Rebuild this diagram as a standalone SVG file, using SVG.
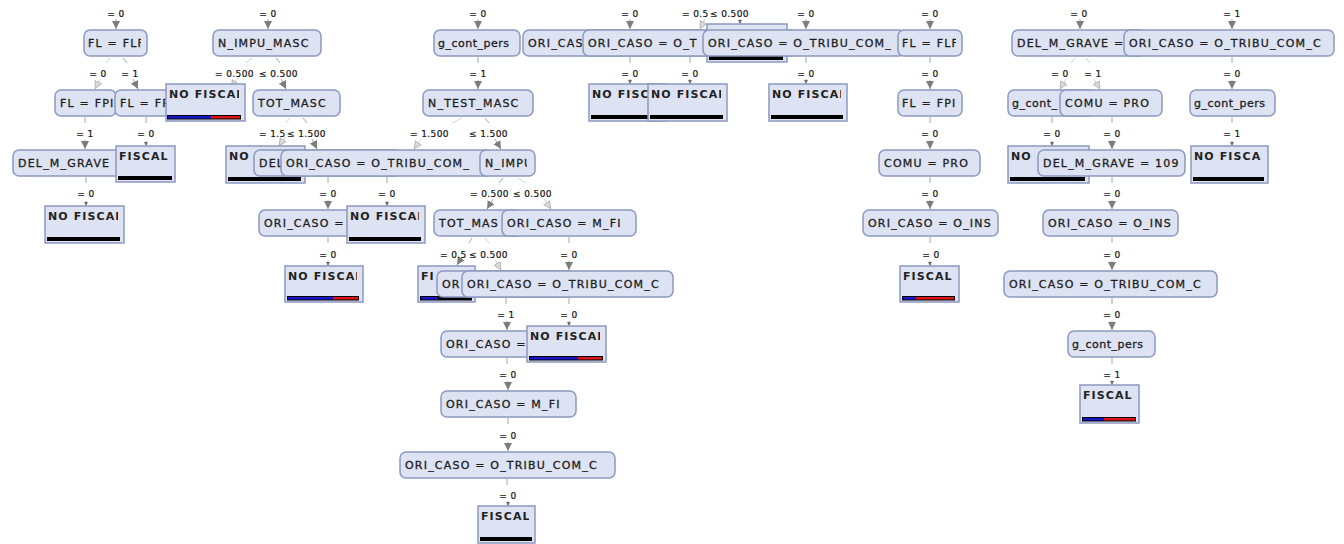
<svg xmlns="http://www.w3.org/2000/svg" width="1344" height="544" viewBox="0 0 1344 544">
<defs>
<style>
.node rect{fill:#dde3f3;stroke:#8c99c0;stroke-width:1.5}
.leaf rect.box{fill:#dde3f3;stroke:#8c99c0;stroke-width:1.5}
.nt{font-family:"DejaVu Sans",sans-serif;font-size:11px;letter-spacing:1.2px;fill:#1e1e1e;stroke:#1e1e1e;stroke-width:0.3px}
.nt.lc{letter-spacing:0.5px}
.lt{font-family:"DejaVu Sans",sans-serif;font-size:11px;font-weight:bold;letter-spacing:1.1px;fill:#222}
.lab{font-family:"DejaVu Sans",sans-serif;font-size:9px;letter-spacing:0.4px;fill:#111;stroke:#111;stroke-width:0.2px}
.lab.c{text-anchor:middle}
.bk{fill:#000}
.bb{fill:#1414c8}
.br{fill:#dc1414}
.e{stroke:#a6a6a6;stroke-width:1;fill:none}
.el{stroke:#d2d2d2;stroke-width:1;fill:none}
</style>
<marker id="ah" viewBox="0 0 10 10" refX="10" refY="5" markerWidth="8" markerHeight="9" markerUnits="userSpaceOnUse" orient="auto"><path d="M0,0 L10,5 L0,10 Z" fill="#7d7d7d"/></marker>
<marker id="al" viewBox="0 0 10 10" refX="10" refY="5" markerWidth="8" markerHeight="9" markerUnits="userSpaceOnUse" orient="auto"><path d="M0.5,0.5 L9.5,5 L0.5,9.5 Z" fill="#dadada" stroke="#adadad" stroke-width="1"/></marker>
<marker id="as" viewBox="0 0 10 10" refX="10" refY="5" markerWidth="4" markerHeight="5" markerUnits="userSpaceOnUse" orient="auto"><path d="M0,0 L10,5 L0,10 Z" fill="#6e6e6e"/></marker>
</defs>
<rect width="1344" height="544" fill="#ffffff"/>

<!-- connectors -->
<g id="connectors">
  <!-- arrows entering the top row from parents above -->
  <line class="e" x1="116" y1="19" x2="116" y2="29" marker-end="url(#ah)"/>
  <line class="e" x1="268" y1="19" x2="268" y2="29" marker-end="url(#ah)"/>
  <line class="e" x1="478" y1="19" x2="478" y2="29" marker-end="url(#ah)"/>
  <line class="e" x1="630" y1="19" x2="630" y2="29" marker-end="url(#ah)"/>
  <line class="el" x1="705" y1="19" x2="700" y2="29" marker-end="url(#al)"/>
  <line class="e" x1="740" y1="19" x2="740" y2="24" marker-end="url(#as)"/>
  <line class="e" x1="806" y1="19" x2="806" y2="29" marker-end="url(#ah)"/>
  <line class="e" x1="930" y1="19" x2="930" y2="29" marker-end="url(#ah)"/>
  <line class="e" x1="1080" y1="19" x2="1080" y2="29" marker-end="url(#ah)"/>
  <line class="e" x1="1232" y1="19" x2="1232" y2="29" marker-end="url(#ah)"/>

  <!-- split edges -->
  <line class="el" x1="110" y1="58" x2="106" y2="63"/>
  <line class="el" x1="100" y1="79" x2="95" y2="89" marker-end="url(#al)"/>
  <line class="e" x1="123" y1="58" x2="127" y2="63"/>
  <line class="e" x1="133" y1="79" x2="138" y2="89" marker-end="url(#ah)"/>

  <line class="el" x1="252" y1="58" x2="246" y2="63"/>
  <line class="el" x1="238" y1="78" x2="231" y2="88" marker-end="url(#al)"/>
  <line class="e" x1="276" y1="58" x2="280" y2="63"/>
  <line class="e" x1="281" y1="79" x2="286" y2="89" marker-end="url(#ah)"/>

  <line class="el" x1="290" y1="118" x2="286" y2="123"/>
  <line class="el" x1="285" y1="137" x2="279" y2="146" marker-end="url(#al)"/>
  <line class="e" x1="303" y1="118" x2="307" y2="123"/>
  <line class="e" x1="312" y1="139" x2="317" y2="149" marker-end="url(#ah)"/>

  <line class="el" x1="462" y1="118" x2="452" y2="123"/>
  <line class="el" x1="421" y1="139" x2="414" y2="149" marker-end="url(#al)"/>
  <line class="e" x1="485" y1="118" x2="489" y2="123"/>
  <line class="e" x1="495" y1="139" x2="501" y2="149" marker-end="url(#ah)"/>

  <line class="e" x1="503" y1="178" x2="499" y2="183"/>
  <line class="e" x1="493" y1="199" x2="487" y2="209" marker-end="url(#ah)"/>
  <line class="el" x1="518" y1="178" x2="526" y2="183"/>
  <line class="el" x1="544" y1="199" x2="551" y2="209" marker-end="url(#al)"/>

  <line class="e" x1="472" y1="238" x2="469" y2="243"/>
  <line class="e" x1="462" y1="257" x2="457" y2="265" marker-end="url(#ah)"/>
  <line class="el" x1="485" y1="238" x2="489" y2="243"/>
  <line class="el" x1="495" y1="260" x2="501" y2="270" marker-end="url(#al)"/>

  <line class="el" x1="1075" y1="58" x2="1071" y2="63"/>
  <line class="el" x1="1066" y1="79" x2="1060" y2="89" marker-end="url(#al)"/>
  <line class="el" x1="1086" y1="58" x2="1090" y2="63"/>
  <line class="el" x1="1094" y1="79" x2="1100" y2="89" marker-end="url(#al)"/>

  <!-- single-child edges -->
  <path class="e" d="M478,57V63M630,57V63M690,57V63M806,57V63M930,57V63M1232,57V63"/>
  <line class="e" x1="478" y1="80" x2="478" y2="89" marker-end="url(#ah)"/>
  <line class="e" x1="630" y1="79" x2="630" y2="84" marker-end="url(#as)"/>
  <line class="e" x1="690" y1="79" x2="690" y2="84" marker-end="url(#as)"/>
  <line class="e" x1="806" y1="79" x2="806" y2="84" marker-end="url(#as)"/>
  <line class="e" x1="930" y1="80" x2="930" y2="89" marker-end="url(#ah)"/>
  <line class="e" x1="1232" y1="80" x2="1232" y2="89" marker-end="url(#ah)"/>

  <path class="e" d="M85,117V123M146,117V123M930,117V123M1052,117V123M1112,117V123M1232,117V123"/>
  <line class="e" x1="85" y1="140" x2="85" y2="149" marker-end="url(#ah)"/>
  <line class="e" x1="146" y1="141" x2="146" y2="146" marker-end="url(#as)"/>
  <line class="e" x1="930" y1="140" x2="930" y2="149" marker-end="url(#ah)"/>
  <line class="e" x1="1052" y1="141" x2="1052" y2="146" marker-end="url(#as)"/>
  <line class="e" x1="1112" y1="140" x2="1112" y2="149" marker-end="url(#ah)"/>
  <line class="e" x1="1232" y1="141" x2="1232" y2="146" marker-end="url(#as)"/>

  <path class="e" d="M86,177V183M328,177V183M387,177V183M930,177V183M1112,177V183"/>
  <line class="e" x1="86" y1="201" x2="86" y2="206" marker-end="url(#as)"/>
  <line class="e" x1="328" y1="200" x2="328" y2="209" marker-end="url(#ah)"/>
  <line class="e" x1="387" y1="201" x2="387" y2="206" marker-end="url(#as)"/>
  <line class="e" x1="930" y1="200" x2="930" y2="209" marker-end="url(#ah)"/>
  <line class="e" x1="1112" y1="200" x2="1112" y2="209" marker-end="url(#ah)"/>

  <path class="e" d="M328,237V243M569,237V243M930,237V243M1112,237V243"/>
  <line class="e" x1="328" y1="261" x2="328" y2="266" marker-end="url(#as)"/>
  <line class="e" x1="569" y1="261" x2="569" y2="270" marker-end="url(#ah)"/>
  <line class="e" x1="930" y1="261" x2="930" y2="266" marker-end="url(#as)"/>
  <line class="e" x1="1112" y1="261" x2="1112" y2="270" marker-end="url(#ah)"/>

  <path class="e" d="M506,298V304M569,298V304M1112,298V304"/>
  <line class="e" x1="507" y1="321" x2="507" y2="330" marker-end="url(#ah)"/>
  <line class="e" x1="569" y1="321" x2="569" y2="326" marker-end="url(#as)"/>
  <line class="e" x1="1112" y1="321" x2="1112" y2="330" marker-end="url(#ah)"/>

  <path class="e" d="M507,358V364M1112,358V364"/>
  <line class="e" x1="508" y1="381" x2="508" y2="390" marker-end="url(#ah)"/>
  <line class="e" x1="1112" y1="380" x2="1112" y2="385" marker-end="url(#as)"/>

  <path class="e" d="M508,418V424"/>
  <line class="e" x1="508" y1="442" x2="508" y2="451" marker-end="url(#ah)"/>

  <path class="e" d="M507,479V485"/>
  <line class="e" x1="508" y1="501" x2="508" y2="506" marker-end="url(#as)"/>
</g>

<!-- edge labels -->
<g id="edge-labels">
  <text class="lab c" x="116" y="17">= 0</text>
  <text class="lab c" x="268" y="17">= 0</text>
  <text class="lab c" x="478" y="17">= 0</text>
  <text class="lab c" x="630" y="17">= 0</text>
  <text class="lab" x="682" y="17">= 0.5</text>
  <text class="lab" x="710" y="17">≤ 0.500</text>
  <text class="lab c" x="806" y="17">= 0</text>
  <text class="lab c" x="930" y="17">= 0</text>
  <text class="lab c" x="1079" y="17">= 0</text>
  <text class="lab c" x="1232" y="17">= 1</text>

  <text class="lab c" x="98" y="77">= 0</text>
  <text class="lab c" x="130" y="77">= 1</text>
  <text class="lab" x="215" y="77">= 0.500</text>
  <text class="lab" x="259" y="77">≤ 0.500</text>
  <text class="lab c" x="478" y="77">= 1</text>
  <text class="lab c" x="630" y="77">= 0</text>
  <text class="lab c" x="690" y="77">= 0</text>
  <text class="lab c" x="806" y="77">= 0</text>
  <text class="lab c" x="930" y="77">= 0</text>
  <text class="lab c" x="1060" y="77">= 0</text>
  <text class="lab c" x="1093" y="77">= 1</text>
  <text class="lab c" x="1232" y="77">= 0</text>

  <text class="lab c" x="85" y="137">= 1</text>
  <text class="lab c" x="146" y="137">= 0</text>
  <text class="lab" x="259" y="137">= 1.5</text>
  <text class="lab" x="287" y="137">≤ 1.500</text>
  <text class="lab" x="410" y="137">= 1.500</text>
  <text class="lab" x="469" y="137">≤ 1.500</text>
  <text class="lab c" x="930" y="137">= 0</text>
  <text class="lab c" x="1052" y="137">= 0</text>
  <text class="lab c" x="1112" y="137">= 0</text>
  <text class="lab c" x="1232" y="137">= 1</text>

  <text class="lab c" x="86" y="197">= 0</text>
  <text class="lab c" x="328" y="197">= 0</text>
  <text class="lab c" x="387" y="197">= 0</text>
  <text class="lab" x="470" y="197">= 0.500</text>
  <text class="lab" x="513" y="197">≤ 0.500</text>
  <text class="lab c" x="930" y="197">= 0</text>
  <text class="lab c" x="1112" y="197">= 0</text>

  <text class="lab c" x="328" y="258">= 0</text>
  <text class="lab" x="440" y="258">= 0.5</text>
  <text class="lab" x="469" y="258">≤ 0.500</text>
  <text class="lab c" x="569" y="258">= 0</text>
  <text class="lab c" x="931" y="258">= 0</text>
  <text class="lab c" x="1112" y="258">= 0</text>

  <text class="lab c" x="506" y="318">= 1</text>
  <text class="lab c" x="569" y="318">= 0</text>
  <text class="lab c" x="1112" y="318">= 0</text>

  <text class="lab c" x="508" y="378">= 0</text>
  <text class="lab c" x="1112" y="378">= 1</text>

  <text class="lab c" x="508" y="439">= 0</text>

  <text class="lab c" x="508" y="499">= 0</text>
</g>

<!-- row 1 -->
<g id="n-fl-flf-a" class="node"><rect x="84" y="30" width="63" height="26" rx="6"/><svg x="84" y="30" width="57" height="26"><text class="nt" x="4" y="17">FL = FLF</text></svg></g>
<g id="n-n-impu-masc" class="node"><rect x="213" y="30" width="108" height="26" rx="6"/><svg x="213" y="30" width="102" height="26"><text class="nt" x="5" y="17">N_IMPU_MASC</text></svg></g>
<g id="n-g-cont-pers-a" class="node"><rect x="434" y="30" width="86" height="26" rx="6"/><svg x="434" y="30" width="80" height="26"><text class="nt lc" x="4" y="17">g_cont_pers</text></svg></g>
<g id="n-ori-caso-a" class="node"><rect x="523" y="30" width="214" height="26" rx="6"/><svg x="523" y="30" width="208" height="26"><text class="nt" x="5" y="17">ORI_CAS</text></svg></g>
<g id="n-ori-caso-b" class="node"><rect x="583" y="30" width="214" height="26" rx="6"/><svg x="583" y="30" width="208" height="26"><text class="nt" x="5" y="17">ORI_CASO = O_T</text></svg></g>
<g id="leaf-top-nofiscal" class="leaf"><rect class="box" x="707" y="24" width="80" height="38"/><rect class="bk" x="709" y="56" width="74" height="4"/></g>
<g id="n-ori-caso-c" class="node"><rect x="703" y="30" width="202" height="26" rx="6"/><svg x="703" y="30" width="196" height="26"><text class="nt" x="5" y="17">ORI_CASO = O_TRIBU_COM_</text></svg></g>
<g id="n-fl-flf-b" class="node"><rect x="898" y="30" width="64" height="26" rx="6"/><svg x="898" y="30" width="58" height="26"><text class="nt" x="4" y="17">FL = FLF</text></svg></g>
<g id="n-del-m-grave-a" class="node"><rect x="1012" y="30" width="134" height="26" rx="6"/><svg x="1012" y="30" width="128" height="26"><text class="nt" x="5" y="17">DEL_M_GRAVE =</text></svg></g>
<g id="n-ori-caso-d" class="node"><rect x="1124" y="30" width="210" height="26" rx="6"/><svg x="1124" y="30" width="204" height="26"><text class="nt" x="5" y="17">ORI_CASO = O_TRIBU_COM_C</text></svg></g>

<!-- row 2 -->
<g id="n-fl-fpi-a" class="node"><rect x="55" y="90" width="61" height="26" rx="6"/><svg x="55" y="90" width="58" height="26"><text class="nt" x="5" y="17">FL = FPI</text></svg></g>
<g id="n-fl-fp" class="node"><rect x="115" y="90" width="61" height="26" rx="6"/><svg x="115" y="90" width="55" height="26"><text class="nt" x="5" y="17">FL = FP</text></svg></g>
<g id="leaf-nofiscal-a" class="leaf"><rect class="box" x="166" y="84" width="79" height="37"/><svg x="166" y="84" width="73" height="37"><text class="lt" x="3" y="14">NO FISCAL</text></svg><rect class="bk" x="167" y="115" width="74" height="4.5"/><rect class="bb" x="168" y="116" width="43" height="2.5"/><rect class="br" x="211" y="116" width="29" height="2.5"/></g>
<g id="n-tot-masc-a" class="node"><rect x="253" y="90" width="87" height="26" rx="6"/><svg x="253" y="90" width="81" height="26"><text class="nt" x="5" y="17">TOT_MASC</text></svg></g>
<g id="n-n-test-masc" class="node"><rect x="423" y="90" width="110" height="26" rx="6"/><svg x="423" y="90" width="104" height="26"><text class="nt" x="5" y="17">N_TEST_MASC</text></svg></g>
<g id="leaf-nofiscal-b" class="leaf"><rect class="box" x="589" y="84" width="78" height="37"/><svg x="589" y="84" width="72" height="37"><text class="lt" x="3" y="14">NO FISC</text></svg><rect class="bk" x="591" y="115" width="72" height="4"/></g>
<g id="leaf-nofiscal-c" class="leaf"><rect class="box" x="648" y="84" width="79" height="37"/><svg x="648" y="84" width="73" height="37"><text class="lt" x="3" y="14">NO FISCAL</text></svg><rect class="bk" x="650" y="115" width="73" height="4"/></g>
<g id="leaf-nofiscal-d" class="leaf"><rect class="box" x="769" y="84" width="78" height="37"/><svg x="769" y="84" width="72" height="37"><text class="lt" x="3" y="14">NO FISCAL</text></svg><rect class="bk" x="771" y="115" width="72" height="4"/></g>
<g id="n-fl-fpi-b" class="node"><rect x="898" y="90" width="64" height="26" rx="6"/><svg x="898" y="90" width="58" height="26"><text class="nt" x="4" y="17">FL = FPI</text></svg></g>
<g id="n-g-cont-b" class="node"><rect x="1008" y="90" width="88" height="26" rx="6"/><svg x="1008" y="90" width="82" height="26"><text class="nt lc" x="4" y="17">g_cont_</text></svg></g>
<g id="n-comu-pro-a" class="node"><rect x="1060" y="90" width="102" height="26" rx="6"/><svg x="1060" y="90" width="96" height="26"><text class="nt" x="5" y="17">COMU = PRO</text></svg></g>
<g id="n-g-cont-pers-c" class="node"><rect x="1190" y="90" width="85" height="26" rx="6"/><svg x="1190" y="90" width="79" height="26"><text class="nt lc" x="4" y="17">g_cont_pers</text></svg></g>

<!-- row 3 -->
<g id="n-del-m-grave-b" class="node"><rect x="13" y="150" width="144" height="26" rx="6"/><svg x="13" y="150" width="138" height="26"><text class="nt" x="5" y="17">DEL_M_GRAVE</text></svg></g>
<g id="leaf-fiscal-a" class="leaf"><rect class="box" x="116" y="146" width="59" height="36"/><svg x="116" y="146" width="53" height="36"><text class="lt" x="3" y="14">FISCAL</text></svg><rect class="bk" x="118" y="176" width="54" height="4"/></g>
<g id="leaf-no-a" class="leaf"><rect class="box" x="226" y="146" width="79" height="37"/><svg x="226" y="146" width="73" height="37"><text class="lt" x="3" y="14">NO</text></svg><rect class="bk" x="228" y="177" width="73" height="4"/></g>
<g id="n-del-c" class="node"><rect x="254" y="150" width="148" height="26" rx="6"/><svg x="254" y="150" width="142" height="26"><text class="nt" x="5" y="17">DEL</text></svg></g>
<g id="n-ori-caso-e" class="node"><rect x="281" y="150" width="212" height="26" rx="6"/><svg x="281" y="150" width="206" height="26"><text class="nt" x="5" y="17">ORI_CASO = O_TRIBU_COM_</text></svg></g>
<g id="n-n-impu" class="node"><rect x="480" y="150" width="55" height="26" rx="6"/><svg x="480" y="150" width="47" height="26"><text class="nt" x="5" y="17">N_IMPU</text></svg></g>
<g id="n-comu-pro-b" class="node"><rect x="879" y="150" width="101" height="26" rx="6"/><svg x="879" y="150" width="95" height="26"><text class="nt" x="5" y="17">COMU = PRO</text></svg></g>
<g id="leaf-no-b" class="leaf"><rect class="box" x="1008" y="146" width="81" height="37"/><svg x="1008" y="146" width="75" height="37"><text class="lt" x="3" y="14">NO</text></svg><rect class="bk" x="1010" y="177" width="75" height="4"/></g>
<g id="n-del-m-grave-109" class="node"><rect x="1038" y="150" width="147" height="26" rx="6"/><svg x="1038" y="150" width="141" height="26"><text class="nt" x="5" y="17">DEL_M_GRAVE = 109</text></svg></g>
<g id="leaf-nofiscal-e" class="leaf"><rect class="box" x="1191" y="146" width="77" height="37"/><svg x="1191" y="146" width="71" height="37"><text class="lt" x="3" y="14">NO FISCAL</text></svg><rect class="bk" x="1193" y="177" width="71" height="4"/></g>

<!-- row 4 -->
<g id="leaf-nofiscal-f" class="leaf"><rect class="box" x="45" y="206" width="79" height="37"/><svg x="45" y="206" width="73" height="37"><text class="lt" x="3" y="14">NO FISCAL</text></svg><rect class="bk" x="47" y="237" width="73" height="4"/></g>
<g id="n-ori-caso-f" class="node"><rect x="259" y="210" width="138" height="26" rx="6"/><svg x="259" y="210" width="132" height="26"><text class="nt" x="5" y="17">ORI_CASO =</text></svg></g>
<g id="leaf-nofiscal-g" class="leaf"><rect class="box" x="347" y="206" width="78" height="37"/><svg x="347" y="206" width="72" height="37"><text class="lt" x="3" y="14">NO FISCAL</text></svg><rect class="bk" x="349" y="237" width="72" height="4"/></g>
<g id="n-tot-mas-b" class="node"><rect x="434" y="210" width="88" height="26" rx="6"/><svg x="434" y="210" width="82" height="26"><text class="nt" x="5" y="17">TOT_MAS</text></svg></g>
<g id="n-ori-caso-mfi-a" class="node"><rect x="502" y="210" width="134" height="26" rx="6"/><svg x="502" y="210" width="128" height="26"><text class="nt" x="5" y="17">ORI_CASO = M_FI</text></svg></g>
<g id="n-ori-caso-oins-a" class="node"><rect x="863" y="210" width="135" height="26" rx="6"/><svg x="863" y="210" width="129" height="26"><text class="nt" x="5" y="17">ORI_CASO = O_INS</text></svg></g>
<g id="n-ori-caso-oins-b" class="node"><rect x="1043" y="210" width="135" height="26" rx="6"/><svg x="1043" y="210" width="129" height="26"><text class="nt" x="5" y="17">ORI_CASO = O_INS</text></svg></g>

<!-- row 5 -->
<g id="leaf-nofiscal-h" class="leaf"><rect class="box" x="285" y="266" width="78" height="36"/><svg x="285" y="266" width="72" height="36"><text class="lt" x="3" y="14">NO FISCAL</text></svg><rect class="bk" x="287" y="296" width="72" height="4.5"/><rect class="bb" x="288" y="297" width="45" height="2.5"/><rect class="br" x="333" y="297" width="25" height="2.5"/></g>
<g id="leaf-fiscal-b" class="leaf"><rect class="box" x="418" y="266" width="57" height="36"/><svg x="418" y="266" width="51" height="36"><text class="lt" x="3" y="14">FI</text></svg><rect class="bk" x="420" y="296" width="52" height="4.5"/><rect class="bb" x="421" y="297" width="17" height="2.5"/></g>
<g id="n-ori-g" class="node"><rect x="437" y="271" width="138" height="26" rx="6"/><svg x="437" y="271" width="132" height="26"><text class="nt" x="5" y="17">OR</text></svg></g>
<g id="n-ori-caso-tribu-a" class="node"><rect x="462" y="271" width="211" height="26" rx="6"/><svg x="462" y="271" width="205" height="26"><text class="nt" x="5" y="17">ORI_CASO = O_TRIBU_COM_C</text></svg></g>
<g id="leaf-fiscal-c" class="leaf"><rect class="box" x="900" y="266" width="59" height="36"/><svg x="900" y="266" width="53" height="36"><text class="lt" x="3" y="14">FISCAL</text></svg><rect class="bk" x="902" y="296" width="53" height="4.5"/><rect class="bb" x="903" y="297" width="13" height="2.5"/><rect class="br" x="916" y="297" width="38" height="2.5"/></g>
<g id="n-ori-caso-tribu-b" class="node"><rect x="1004" y="271" width="213" height="26" rx="6"/><svg x="1004" y="271" width="207" height="26"><text class="nt" x="5" y="17">ORI_CASO = O_TRIBU_COM_C</text></svg></g>

<!-- row 6 -->
<g id="n-ori-caso-h" class="node"><rect x="441" y="331" width="130" height="26" rx="6"/><svg x="441" y="331" width="124" height="26"><text class="nt" x="5" y="17">ORI_CASO =</text></svg></g>
<g id="leaf-nofiscal-i" class="leaf"><rect class="box" x="527" y="326" width="79" height="36"/><svg x="527" y="326" width="73" height="36"><text class="lt" x="3" y="14">NO FISCAL</text></svg><rect class="bk" x="529" y="356" width="74" height="4.5"/><rect class="bb" x="530" y="357" width="48" height="2.5"/><rect class="br" x="578" y="357" width="24" height="2.5"/></g>
<g id="n-g-cont-pers-d" class="node"><rect x="1068" y="331" width="87" height="26" rx="6"/><svg x="1068" y="331" width="81" height="26"><text class="nt lc" x="4" y="17">g_cont_pers</text></svg></g>

<!-- row 7 -->
<g id="n-ori-caso-mfi-b" class="node"><rect x="441" y="391" width="135" height="26" rx="6"/><svg x="441" y="391" width="129" height="26"><text class="nt" x="5" y="17">ORI_CASO = M_FI</text></svg></g>
<g id="leaf-fiscal-d" class="leaf"><rect class="box" x="1080" y="385" width="59" height="38"/><svg x="1080" y="385" width="53" height="38"><text class="lt" x="3" y="14">FISCAL</text></svg><rect class="bk" x="1082" y="417" width="54" height="4.5"/><rect class="bb" x="1083" y="418" width="21" height="2.5"/><rect class="br" x="1104" y="418" width="31" height="2.5"/></g>

<!-- row 8 -->
<g id="n-ori-caso-tribu-c" class="node"><rect x="400" y="452" width="215" height="26" rx="6"/><svg x="400" y="452" width="209" height="26"><text class="nt" x="5" y="17">ORI_CASO = O_TRIBU_COM_C</text></svg></g>

<!-- row 9 -->
<g id="leaf-fiscal-e" class="leaf"><rect class="box" x="478" y="506" width="57" height="37"/><svg x="478" y="506" width="51" height="37"><text class="lt" x="3" y="14">FISCAL</text></svg><rect class="bk" x="480" y="537" width="52" height="4"/></g>
</svg>
